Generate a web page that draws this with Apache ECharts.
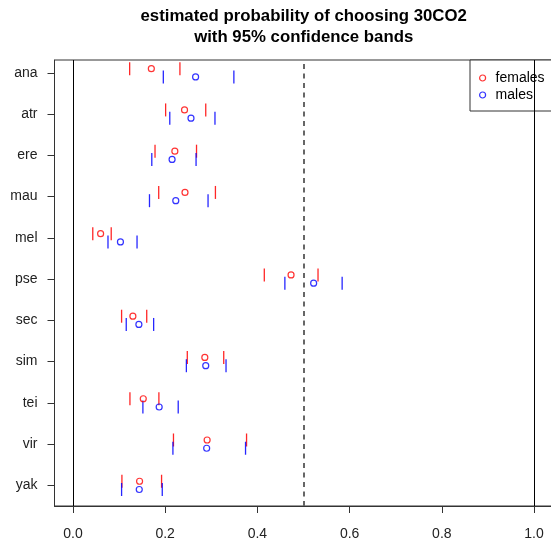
<!DOCTYPE html>
<html>
<head>
<meta charset="utf-8">
<script src="https://cdn.jsdelivr.net/npm/echarts@6/dist/echarts.min.js"></script>
<style>html,body{margin:0;padding:0;background:#fff}#c{width:551px;height:546px}</style>
</head>
<body>
<div id="c"></div>
<script>
var categories = ['ana','atr','ere','mau','mel','pse','sec','sim','tei','vir','yak'];
var femEst = [0.170,0.242,0.221,0.243,0.060,0.473,0.130,0.286,0.1525,0.291,0.1445];
var femLo  = [0.123,0.201,0.178,0.186,0.043,0.415,0.1055,0.248,0.1236,0.218,0.1062];
var femHi  = [0.232,0.288,0.268,0.309,0.083,0.5315,0.160,0.327,0.1864,0.3765,0.1922];
var malEst = [0.266,0.256,0.215,0.223,0.103,0.522,0.143,0.288,0.187,0.290,0.1438];
var malLo  = [0.196,0.210,0.171,0.166,0.076,0.4596,0.1156,0.246,0.1517,0.2168,0.1055];
var malHi  = [0.349,0.308,0.267,0.293,0.139,0.5838,0.175,0.332,0.2283,0.3743,0.1937];
var xTicks = [0, 0.2, 0.4, 0.6, 0.8, 1.0];
var legendNames = ['females','males'];

var n = categories.length;
function rowPos(i){ return n - i; }
var yTicks = categories.map(function(c,i){ return rowPos(i); });

function pts(vals, off){ return vals.map(function(v,i){ return [v, rowPos(i)+off]; }); }
function ci(lo, hi, off){ return pts(lo, off).concat(pts(hi, off)); }

var RED = '#ff0000', BLUE = '#0000ff';
var font = 'Liberation Sans, Arial, Helvetica, sans-serif';

var chart = echarts.init(document.getElementById('c'), null, {renderer:'canvas'});
chart.setOption({
  animation: false,
  backgroundColor: '#fff',
  title: {
    text: 'estimated probability of choosing 30CO2\nwith 95% confidence bands',
    left: 303.7, top: 5.5, padding: 0, textAlign: 'center',
    textStyle: {fontFamily: font, fontSize: 16.8, fontWeight: 'bold', color: '#000', lineHeight: 21}
  },
  legend: {
    orient: 'vertical', left: 470, top: 60,
    padding: [11, 8, 9, 9], itemGap: 3,
    itemWidth: 16, itemHeight: 6,
    backgroundColor: '#fff', borderColor: '#333', borderWidth: 1, borderRadius: 0,
    textStyle: {fontFamily: font, fontSize: 14, color: '#000'},
    data: [
      {name: legendNames[0], icon: 'circle', itemStyle: {color: 'transparent', borderColor: RED, borderWidth: 1.2}},
      {name: legendNames[1], icon: 'circle', itemStyle: {color: 'transparent', borderColor: BLUE, borderWidth: 1.2}}
    ]
  },
  grid: {left: 54.5, top: 60, width: 498, height: 446, containLabel: false, outerBoundsMode: 'none',
    show: true, borderColor: '#333', borderWidth: 1, backgroundColor: 'transparent'},
  xAxis: {
    type: 'value', min: -0.04, max: 1.04,
    axisLine: {show: true, onZero: false, lineStyle: {color: '#333', width: 1}},
    axisTick: {show: true, length: 7, inside: false, customValues: xTicks, lineStyle: {color: '#333'}},
    axisLabel: {show: true, customValues: xTicks, margin: 21, fontFamily: font, fontSize: 14, color: '#222',
      formatter: function(v){ return (+v).toFixed(1); }},
    splitLine: {show: false}
  },
  yAxis: {
    type: 'value', min: 0.5, max: 11.31,
    axisLine: {show: true, onZero: false, lineStyle: {color: '#333', width: 1}},
    axisTick: {show: true, length: 7, inside: false, customValues: yTicks, lineStyle: {color: '#333'}},
    axisLabel: {show: true, customValues: yTicks, margin: 17, fontFamily: font, fontSize: 14, color: '#222',
      formatter: function(v){ return categories[n - Math.round(v)]; }},
    splitLine: {show: false}
  },
  series: [
    {
      name: 'refs', type: 'scatter', data: [], silent: true,
      markLine: {
        silent: true, symbol: 'none', label: {show: false}, animation: false,
        data: [
          {xAxis: 0, lineStyle: {color: '#000', width: 1, type: 'solid'}},
          {xAxis: 1, lineStyle: {color: '#000', width: 1, type: 'solid'}},
          {xAxis: 0.5, lineStyle: {color: '#666', width: 2, type: [5, 4.5]}}
        ]
      }
    },
    {name: 'femCI', type: 'scatter', symbol: 'rect', symbolSize: [1.3, 13], data: ci(femLo, femHi, 0.1),
      itemStyle: {color: RED, opacity: 0.85}, silent: true},
    {name: 'malCI', type: 'scatter', symbol: 'rect', symbolSize: [1.3, 13], data: ci(malLo, malHi, -0.1),
      itemStyle: {color: BLUE, opacity: 0.85}, silent: true},
    {name: legendNames[0], type: 'scatter', symbol: 'circle', symbolSize: 6, data: pts(femEst, 0.1),
      itemStyle: {color: 'transparent', borderColor: RED, borderWidth: 1.2}, silent: true},
    {name: legendNames[1], type: 'scatter', symbol: 'circle', symbolSize: 6, data: pts(malEst, -0.1),
      itemStyle: {color: 'transparent', borderColor: BLUE, borderWidth: 1.2}, silent: true}
  ]
});
</script>
</body>
</html>
